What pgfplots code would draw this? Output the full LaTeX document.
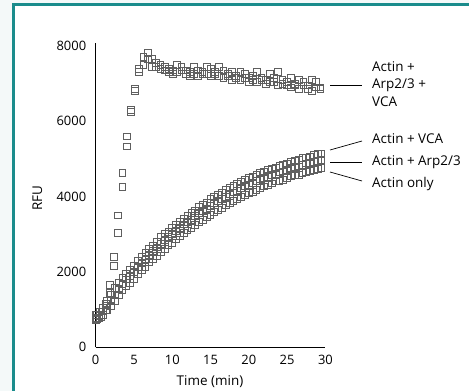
\documentclass[border=0pt]{standalone}
\usepackage{pgfplots}
\pgfplotsset{compat=1.18}
\usepackage{fontspec}
\setmainfont{Open Sans}
\definecolor{teal1}{RGB}{26,140,140}
\definecolor{outer}{RGB}{244,249,249}
\definecolor{mk}{RGB}{95,95,95}
\pgfplotstableread{
t y
0.2 850
0.75 950
1.3 1150
1.85 1650
2.4 2400
2.95 3500
3.5 4620
4.05 5600
4.6 6300
5.15 6850
5.7 7400
6.25 7700
6.8 7820
7.35 7650
7.9 7550
8.45 7500
9.0 7450
9.55 7400
10.1 7350
10.65 7500
11.2 7450
11.75 7350
12.3 7300
12.85 7450
13.4 7350
13.95 7250
14.5 7450
15.05 7400
15.6 7300
16.15 7450
16.7 7350
17.25 7250
17.8 7300
18.35 7200
18.9 7300
19.45 7250
20.0 7150
20.55 7200
21.1 7300
21.65 7150
22.2 7100
22.75 7250
23.3 7150
23.85 7300
24.4 7100
24.95 7050
25.5 7150
26.05 7000
26.6 7100
27.15 7050
27.7 6950
28.25 7100
28.8 7050
29.35 6900
}\tallA
\pgfplotstableread{
t y
0.2 750
0.75 800
1.3 1000
1.85 1450
2.4 2150
2.95 3030
3.5 4250
4.05 5330
4.6 6250
5.15 6800
5.7 7300
6.25 7500
6.8 7650
7.35 7450
7.9 7450
8.45 7400
9.0 7350
9.55 7300
10.1 7250
10.65 7300
11.2 7350
11.75 7250
12.3 7200
12.85 7250
13.4 7200
13.95 7300
14.5 7250
15.05 7200
15.6 7250
16.15 7200
16.7 7150
17.25 7200
17.8 7100
18.35 7150
18.9 7100
19.45 7150
20.0 7050
20.55 7100
21.1 7050
21.65 7100
22.2 7000
22.75 7050
23.3 7050
23.85 6950
24.4 7000
24.95 6950
25.5 6900
26.05 6950
26.6 6850
27.15 6950
27.7 6850
28.25 6800
28.8 6900
29.35 6850
}\tallB
\pgfplotstableread{
t y
0 850
0.5 930
1 1040
1.5 1220
2 1400
2.5 1570
3 1700
3.5 1830
4 1960
4.5 2060
5 2160
5.5 2300
6 2400
6.5 2500
7 2620
7.5 2700
8 2800
8.5 2920
9 3000
9.5 3060
10 3160
10.5 3250
11 3320
11.5 3400
12 3490
12.5 3560
13 3620
13.5 3720
14 3780
14.5 3830
15 3930
15.5 3990
16 4040
16.5 4110
17 4170
17.5 4220
18 4290
18.5 4340
19 4380
19.5 4450
20 4490
20.5 4530
21 4590
21.5 4620
22 4650
22.5 4720
23 4740
23.5 4760
24 4820
24.5 4850
25 4870
25.5 4930
26 4950
26.5 4970
27 5020
27.5 5040
28 5060
28.5 5110
29 5130
29.5 5140
}\vca
\pgfplotstableread{
t y
0 780
0.5 840
1 950
1.5 1110
2 1250
2.5 1390
3 1550
3.5 1690
4 1800
4.5 1890
5 2000
5.5 2140
6 2250
6.5 2340
7 2450
7.5 2560
8 2650
8.5 2740
9 2850
9.5 2930
10 3000
10.5 3080
11 3170
11.5 3260
12 3330
12.5 3390
13 3480
13.5 3560
14 3620
14.5 3680
15 3750
15.5 3830
16 3880
16.5 3930
17 4000
17.5 4070
18 4110
18.5 4160
19 4220
19.5 4280
20 4320
20.5 4360
21 4410
21.5 4460
22 4490
22.5 4520
23 4570
23.5 4610
24 4640
24.5 4670
25 4710
25.5 4760
26 4780
26.5 4800
27 4840
27.5 4880
28 4900
28.5 4910
29 4950
29.5 4980
}\arp
\pgfplotstableread{
t y
0 720
0.5 770
1 850
1.5 980
2 1100
2.5 1230
3 1380
3.5 1510
4 1620
4.5 1710
5 1820
5.5 1950
6 2050
6.5 2140
7 2250
7.5 2350
8 2430
8.5 2520
9 2620
9.5 2710
10 2780
10.5 2860
11 2950
11.5 3040
12 3100
12.5 3170
13 3250
13.5 3330
14 3390
14.5 3450
15 3520
15.5 3600
16 3650
16.5 3700
17 3770
17.5 3840
18 3880
18.5 3930
19 3990
19.5 4050
20 4090
20.5 4130
21 4180
21.5 4240
22 4270
22.5 4300
23 4350
23.5 4400
24 4420
24.5 4450
25 4490
25.5 4540
26 4560
26.5 4580
27 4620
27.5 4660
28 4680
28.5 4700
29 4740
29.5 4770
}\actin
\begin{document}
\begin{tikzpicture}[x=1bp,y=1bp]
\useasboundingbox (0,0) rectangle (469,391);
\fill[outer] (0,0) rectangle (469,391);
\fill[white] (15,0) rectangle (469,385);
\fill[teal1] (12,0) rectangle (15,388);
\fill[teal1] (12,385) rectangle (469,388);
\pgfplotsset{sq/.style={only marks, mark=square, mark size=3.4bp,
     mark options={draw=mk, fill=none, line width=1bp, solid}}}
\begin{axis}[
  at={(95.7bp,43.7bp)}, anchor=south west,
  scale only axis, width=229.7bp, height=304.6bp,
  xmin=0, xmax=30, ymin=0, ymax=8088,
  axis lines=left, axis line style={line width=0.9bp, -},
  xtick={0,5,...,30}, ytick={0,2000,4000,6000,8000},
  major tick length=0pt,
  tick label style={font=\fontsize{13}{15}\selectfont},
  /pgf/number format/assume math mode=true,
  scaled y ticks=false,
  yticklabel style={/pgf/number format/1000 sep={}, xshift=-6bp},
  xticklabel style={yshift=-4bp},
  clip=false,
]
\addplot[sq] table[x=t,y=y] {\tallA};
\addplot[sq] table[x=t,y=y] {\tallB};
\addplot[sq] table[x=t,y=y] {\vca};
\addplot[sq] table[x=t,y=y] {\arp};
\addplot[sq] table[x=t,y=y] {\actin};
\end{axis}
\begin{scope}[every node/.style={font=\fontsize{13.5}{15}\selectfont, anchor=west, inner sep=0pt}]
\node[anchor=center, rotate=90] at (37.3,193) {RFU};
\node[anchor=center] at (210,9.3) {Time (min)};
\draw[line width=0.7bp] (330,306) -- (362,306);
\node at (372,324) {Actin +};
\node at (372,306) {Arp2/3 +};
\node at (372,289) {VCA};
\draw[line width=0.7bp] (330,241) -- (362,250);
\node at (372,252) {Actin + VCA};
\draw[line width=0.7bp] (330,229) -- (362,229);
\node at (372,229) {Actin + Arp2/3};
\draw[line width=0.7bp] (330,219) -- (362,210);
\node at (372,207) {Actin only};
\end{scope}
\end{tikzpicture}
\end{document}
